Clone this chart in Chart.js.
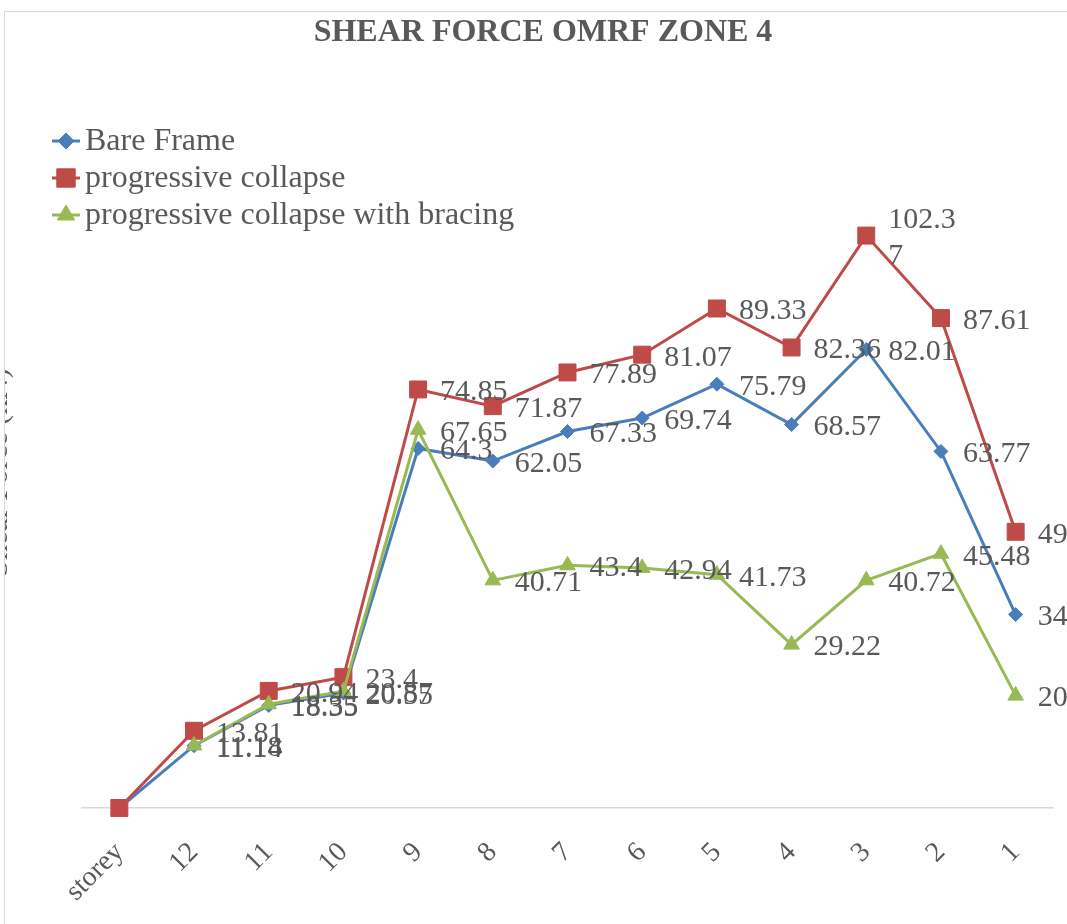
<!DOCTYPE html>
<html><head><meta charset="utf-8">
<script src="https://cdn.jsdelivr.net/npm/chart.js@4.4.1/dist/chart.umd.min.js"></script>
<style>
html,body{margin:0;padding:0;background:#fff;overflow:hidden;width:1067px;height:924px}
#frame{position:absolute;left:4px;top:11px;width:1100px;height:950px;border-left:1px solid #d9d9d9;border-top:1px solid #d9d9d9}
#wrap{position:absolute;left:5px;top:12px;width:1062px;height:912px}
</style></head><body>
<div id="frame"></div>
<div id="wrap"><canvas id="c" width="1062" height="912"></canvas></div>
<script>
const chartTitle = 'SHEAR FORCE OMRF ZONE 4';
const yTitle = 'Shear Force (kN)';
const categories = ['storey','12','11','10','9','8','7','6','5','4','3','2','1'];
const seriesNames = ['Bare Frame','progressive collapse','progressive collapse with bracing'];
const bareFrame = [0, 11.14, 18.35, 20.55, 64.3, 62.05, 67.33, 69.74, 75.79, 68.57, 82.01, 63.77, 34.6];
const progressiveCollapse = [0, 13.81, 20.94, 23.4, 74.85, 71.87, 77.89, 81.07, 89.33, 82.36, 102.37, 87.61, 49.4];
const withBracing = [null, 11.18, 18.55, 20.87, 67.65, 40.71, 43.4, 42.94, 41.73, 29.22, 40.72, 45.48, 20.1];

const colors = ['#4A7EBB','#BE4B48','#98B954'];
const styles = ['rectRot','rect','triangle'];
const radii = [7, 12, 9];
const serif = '"Liberation Serif", "Times New Roman", serif';
const textGray = '#595959';

function wrapText(ctx, text, maxW){
  if (ctx.measureText(text).width <= maxW) return [text];
  const lines=[]; let cur='';
  for (const ch of text){
    if (ctx.measureText(cur+ch).width > maxW && cur){ lines.push(cur); cur=ch; }
    else cur+=ch;
  }
  if (cur) lines.push(cur);
  return lines;
}

function drawMarker(ctx, style, x, y, r, color){
  if (Chart.helpers && Chart.helpers.drawPoint){
    ctx.fillStyle=color; ctx.strokeStyle=color; ctx.lineWidth=1;
    Chart.helpers.drawPoint(ctx, {pointStyle:style, rotation:0, borderWidth:1, radius:r}, x, y);
  }
}

const labelPlugin = {
  id:'pointValueLabels',
  afterDatasetsDraw(chart){
    const ctx = chart.ctx;
    ctx.save();
    ctx.font = '30px ' + serif;
    ctx.fillStyle = textGray;
    ctx.textAlign = 'left';
    ctx.textBaseline = 'middle';
    chart.data.datasets.forEach((ds, di) => {
      const meta = chart.getDatasetMeta(di);
      meta.data.forEach((pt, i) => {
        const v = ds.data[i];
        if (v === null || v === 0) return;
        const lines = wrapText(ctx, String(v), 74);
        const lh = 36;
        const y0 = pt.y + 3 - (lines.length - 1) * lh / 2;
        lines.forEach((t, k) => ctx.fillText(t, pt.x + 22, y0 + k * lh));
      });
    });
    ctx.restore();
  }
};

const overlayPlugin = {
  id:'overlayLegendAndAxisTitle',
  afterDraw(chart){
    const ctx = chart.ctx;
    const ca = chart.chartArea;
    const x0 = ca.left - 30;
    ctx.save();
    chart.data.datasets.forEach((ds, i) => {
      const y = ca.top + 4 + i * 37;
      ctx.strokeStyle = ds.borderColor; ctx.lineWidth = 3;
      ctx.beginPath(); ctx.moveTo(x0, y); ctx.lineTo(x0 + 28, y); ctx.stroke();
      drawMarker(ctx, ds.pointStyle, x0 + 14, y, ds.pointRadius + 1, ds.borderColor);
      ctx.fillStyle = textGray;
      ctx.font = '32px ' + serif;
      ctx.textAlign = 'left'; ctx.textBaseline = 'middle';
      ctx.fillText(ds.label, x0 + 33, y + 1);
    });
    // y-axis title, clipped by the chart frame on the left
    ctx.translate(-6, (ca.top + ca.bottom) / 2);
    ctx.rotate(-Math.PI / 2);
    ctx.fillStyle = textGray;
    ctx.font = '30px ' + serif;
    ctx.textAlign = 'center'; ctx.textBaseline = 'middle';
    ctx.fillText(yTitle, 0, 0);
    ctx.restore();
  }
};

const seriesData = [bareFrame, progressiveCollapse, withBracing];
const datasets = seriesData.map((d, i) => ({
  label: seriesNames[i],
  data: d,
  borderColor: colors[i],
  backgroundColor: colors[i],
  borderWidth: 3,
  pointStyle: styles[i],
  pointRadius: radii[i],
  pointHoverRadius: radii[i],
  pointBorderWidth: 1,
  pointBackgroundColor: colors[i],
  pointBorderColor: colors[i],
  tension: 0,
  order: 2 - i,
  clip: false
}));

new Chart(document.getElementById('c'), {
  type: 'line',
  data: { labels: categories, datasets },
  options: {
    responsive: false,
    animation: false,
    layout: { padding: { left: 28, right: 14, top: 0, bottom: 0 } },
    plugins: {
      legend: { display: false },
      tooltip: { enabled: false },
      title: {
        display: true, text: chartTitle, color: textGray,
        font: { family: serif, size: 32, weight: 'bold' },
        padding: { top: 2, bottom: 84.6 }
      }
    },
    scales: {
      x: {
        offset: true,
        grid: { display: false },
        border: { display: true, color: '#d9d9d9', width: 1.5 },
        ticks: { color: textGray, font: { family: serif, size: 28 }, maxRotation: 45, minRotation: 45, padding: 20, autoSkip: false },
        afterFit(s){ s.height = 116; }
      },
      y: {
        min: 0, max: 120,
        grid: { display: false },
        border: { display: false },
        ticks: { display: false },
        afterFit(s){ s.width = 49; }
      }
    }
  },
  plugins: [labelPlugin, overlayPlugin]
});
</script>
</body></html>
